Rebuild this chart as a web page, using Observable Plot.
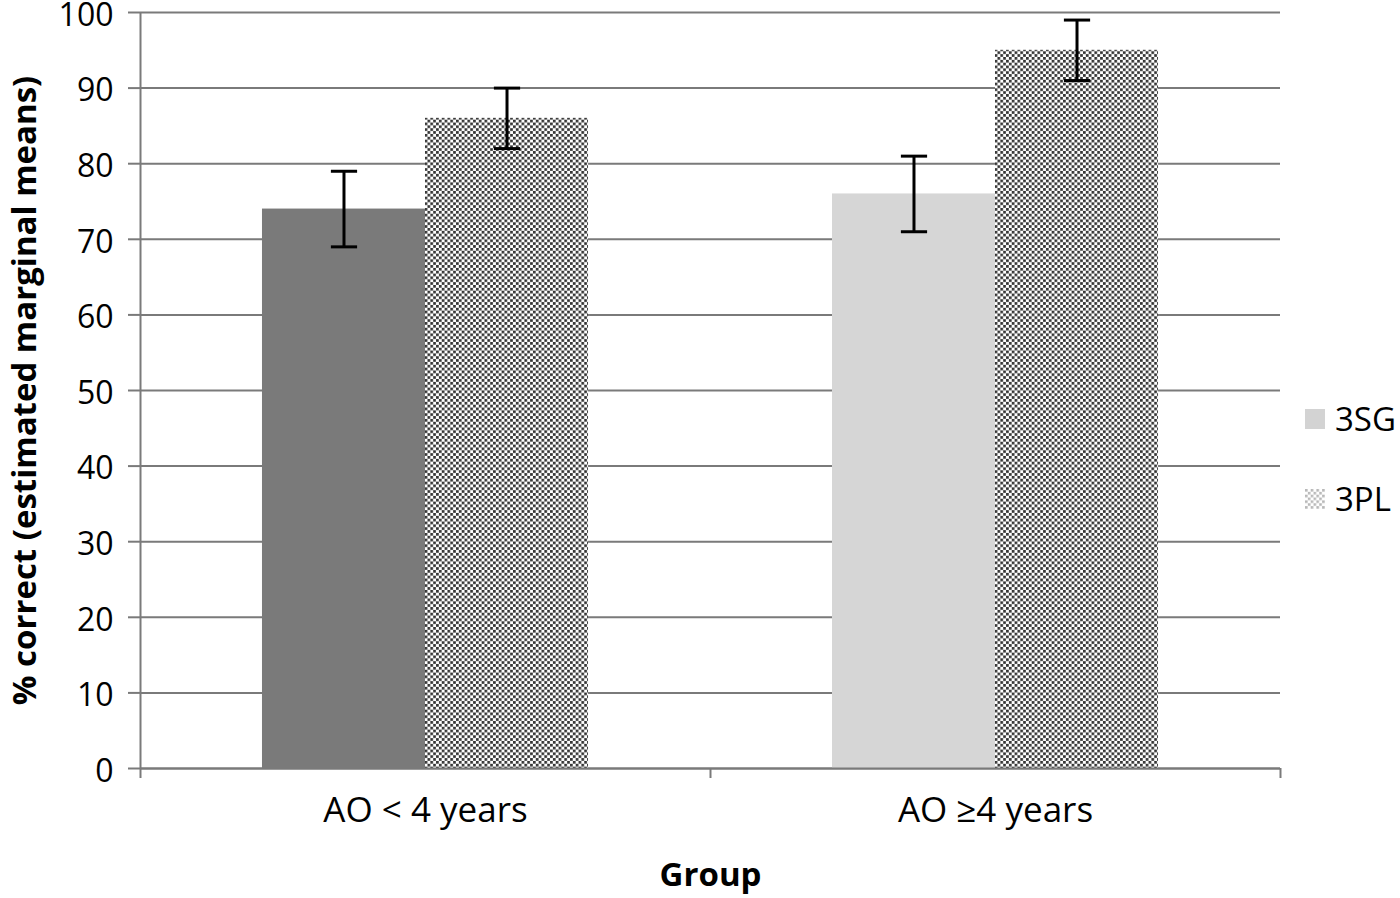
<!DOCTYPE html>
<html><head>
<meta charset="utf-8">
<script src="https://cdn.jsdelivr.net/npm/d3@7"></script>
<script src="https://cdn.jsdelivr.net/npm/@observablehq/plot@0.6"></script>
<style>
body{margin:0;background:#fff;}
#wrap{position:relative;width:1400px;height:898px;font-family:"Open Sans",Lato,sans-serif;}
#wrap svg{overflow:visible;}
.leg{position:absolute;display:flex;align-items:center;font-size:33px;color:#000;line-height:1;}
.leg .sw{width:20px;height:20px;margin-right:10px;}
</style>
</head><body>
<div id="wrap"></div>
<script>
const groups = ["AO < 4 years", "AO ≥4 years"];
const series = ["3SG", "3PL"];
const mean3SG = [74, 76];
const low3SG = [69, 71];
const high3SG = [79, 81];
const mean3PL = [86, 95];
const low3PL = [82, 91];
const high3PL = [90, 99];
const fill3SG = ["#7a7a7a", "#d6d6d6"];
const yTicks = [0, 10, 20, 30, 40, 50, 60, 70, 80, 90, 100];
const yLabel = "% correct (estimated marginal means)";
const xLabel = "Group";

const barW = 0.286;   // fraction of a group slot
const cap = 0.023;
const rows = groups.flatMap((g, i) => [
  {g, i, s: series[0], v: mean3SG[i], lo: low3SG[i], hi: high3SG[i], fill: fill3SG[i], x1: i + 0.5 - barW},
  {g, i, s: series[1], v: mean3PL[i], lo: low3PL[i], hi: high3PL[i], fill: "url(#dots)", x1: i + 0.5}
]).map(d => ({...d, x2: d.x1 + barW, cx: d.x1 + barW / 2}));

const grid = "#7a7a7a";
const plot = Plot.plot({
  width: 1400,
  height: 898,
  marginLeft: 140,
  marginRight: 120,
  marginTop: 12,
  marginBottom: 130,
  style: {fontFamily: "'Open Sans', Lato, sans-serif", fontSize: "32px", color: "#000", background: "#fff", overflow: "visible"},
  x: {type: "linear", domain: [0, 2], axis: null},
  y: {type: "linear", domain: [0, 100], axis: null},
  marks: [
    Plot.ruleY(yTicks, {stroke: grid, strokeWidth: 2}),
    Plot.axisY({ticks: yTicks, tickSize: 12, tickFormat: () => "", stroke: grid, strokeWidth: 2, label: null}),
    Plot.axisY({ticks: yTicks, tickSize: 0, tickPadding: 27, fontSize: 32, dy: 3, label: null, tickFormat: d => String(d)}),
    Plot.axisX({ticks: [0, 1, 2], tickSize: 10, tickFormat: () => "", stroke: grid, strokeWidth: 2, label: null}),
    Plot.rect(rows.filter(d => d.s === series[0]), {x1: "x1", x2: "x2", y1: 0, y2: "v", fill: d => d.fill}),
    Plot.rect(rows.filter(d => d.s === series[1]), {x1: "x1", x2: "x2", y1: 0, y2: "v", fill: "url(#dots)"}),
    Plot.ruleX([0], {stroke: grid, strokeWidth: 2}),
    Plot.ruleY([0], {stroke: grid, strokeWidth: 2}),
    Plot.link(rows, {x1: "cx", x2: "cx", y1: "lo", y2: "hi", stroke: "#000", strokeWidth: 3}),
    Plot.link(rows, {x1: d => d.cx - cap, x2: d => d.cx + cap, y1: "hi", y2: "hi", stroke: "#000", strokeWidth: 3}),
    Plot.link(rows, {x1: d => d.cx - cap, x2: d => d.cx + cap, y1: "lo", y2: "lo", stroke: "#000", strokeWidth: 3}),
    Plot.text(groups, {x: (d, i) => i + 0.5, y: 0, dy: 42, text: d => d, fontSize: 35}),
    Plot.text([xLabel], {x: 1, y: 0, dy: 107, text: d => d, fontSize: 33, fontWeight: "bold"}),
    Plot.text([yLabel], {frameAnchor: "left", textAnchor: "middle", dx: -115, rotate: -90, text: d => d, fontSize: 33, fontWeight: "bold"})
  ]
});

const svgSel = d3.select(plot);
const defs = svgSel.insert("defs", ":first-child");
function addPattern(id, color, p0, s) {
  const p = defs.append("pattern").attr("id", id).attr("patternUnits", "userSpaceOnUse")
    .attr("width", p0).attr("height", p0);
  p.append("rect").attr("width", p0).attr("height", p0).attr("fill", "#fff");
  p.append("rect").attr("x", 0).attr("y", 0).attr("width", s).attr("height", s).attr("fill", color);
  p.append("rect").attr("x", p0 / 2).attr("y", p0 / 2).attr("width", s).attr("height", s).attr("fill", color);
}
addPattern("dots", "#333333", 5.7, 2.7);

const wrap = document.getElementById("wrap");
wrap.appendChild(plot);

// legend
const legendItems = [
  {label: series[0], top: 409, html: `<div class="sw" style="background:#d3d3d3"></div>`},
  {label: series[1], top: 489, html: `<svg class="sw" width="20" height="20"><defs><pattern id="ldots" patternUnits="userSpaceOnUse" width="5.7" height="5.7"><rect width="5.7" height="5.7" fill="#fff"/><rect width="2.6" height="2.6" fill="#b8b8b8"/><rect x="2.85" y="2.85" width="2.6" height="2.6" fill="#b8b8b8"/></pattern></defs><rect width="20" height="20" fill="url(#ldots)"/></svg>`}
];
for (const it of legendItems) {
  const d = document.createElement("div");
  d.className = "leg";
  d.style.left = "1305px";
  d.style.top = (it.top - 7) + "px";
  d.innerHTML = it.html + `<span>${it.label}</span>`;
  wrap.appendChild(d);
}
</script>
</body></html>
